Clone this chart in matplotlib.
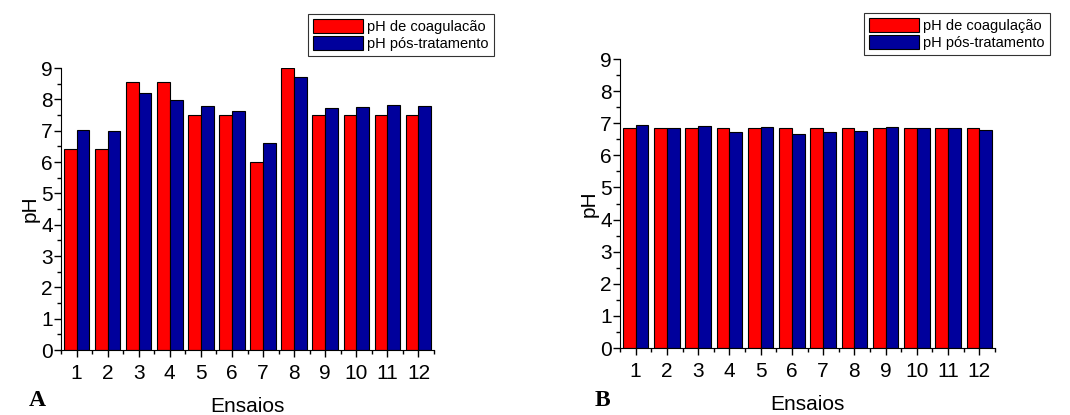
import matplotlib
matplotlib.use('Agg')
import matplotlib.pyplot as plt
import numpy as np
from matplotlib.ticker import MultipleLocator, FixedLocator

# ensaios 1..12
ensaios = np.arange(1, 13)

# painel A
ph_coag_a = [6.4, 6.4, 8.55, 8.55, 7.5, 7.5, 6.0, 9.0, 7.5, 7.5, 7.5, 7.5]
ph_pos_a = [7.03, 6.99, 8.21, 7.99, 7.80, 7.64, 6.62, 8.72, 7.73, 7.76, 7.82, 7.78]

# painel B
ph_coag_b = [6.84, 6.84, 6.84, 6.84, 6.84, 6.84, 6.84, 6.84, 6.84, 6.84, 6.84, 6.84]
ph_pos_b = [6.94, 6.84, 6.91, 6.72, 6.88, 6.65, 6.73, 6.77, 6.88, 6.86, 6.86, 6.80]

RED = '#FF0000'
BLUE = '#00009C'
plt.rcParams['font.family'] = ['Liberation Sans', 'DejaVu Sans']

fig = plt.figure(figsize=(10.7, 4.15), dpi=100)


def painel(rect, coag, pos, letra, letra_xy, leg_rect):
    ax = fig.add_axes(rect)
    w = 0.41
    ax.bar(ensaios - w / 2, coag, width=w, color=RED, edgecolor='black', linewidth=0.8,
           label='pH de coagulacão' if letra == 'A' else 'pH de coagulação')
    ax.bar(ensaios + w / 2, pos, width=w, color=BLUE, edgecolor='black', linewidth=0.8,
           label='pH pós-tratamento')
    ax.set_xlim(0.5, 12.5)
    ax.set_ylim(0, 9)
    ax.spines['top'].set_visible(False)
    ax.spines['right'].set_visible(False)
    ax.set_xticks(ensaios)
    ax.xaxis.set_minor_locator(FixedLocator(np.arange(0.5, 13, 1)))
    ax.yaxis.set_major_locator(MultipleLocator(1))
    ax.yaxis.set_minor_locator(MultipleLocator(0.5))
    ax.tick_params(axis='both', which='major', direction='out', length=5, width=1, labelsize=15)
    ax.tick_params(axis='both', which='minor', direction='out', length=3, width=1)
    ax.tick_params(axis='x', pad=5)
    ax.tick_params(axis='y', pad=1)
    ax.set_xlabel('Ensaios', fontsize=15, labelpad=10)
    ax.set_ylabel('pH', fontsize=15, labelpad=1)
    fig.text(letra_xy[0], letra_xy[1], letra, fontsize=17, fontweight='bold',
             family='Liberation Serif', ha='center', va='center')
    h, l = ax.get_legend_handles_labels()
    leg = fig.legend(h, l, loc='upper left', bbox_to_anchor=leg_rect, fontsize=10.5,
                     frameon=True, fancybox=False, handlelength=3.4, handleheight=1.1,
                     borderpad=0.35, labelspacing=0.15, handletextpad=0.3, borderaxespad=0)
    leg.get_frame().set_edgecolor('black')
    leg.get_frame().set_linewidth(0.8)
    return ax


painel([61 / 1070, 1 - 350 / 415, 373 / 1070, 282 / 415], ph_coag_a, ph_pos_a,
       'A', (37 / 1070, 1 - 400 / 415), (308 / 1070, 1 - 14 / 415))
painel([620 / 1070, 1 - 348 / 415, 375 / 1070, 289 / 415], ph_coag_b, ph_pos_b,
       'B', (602 / 1070, 1 - 400 / 415), (864 / 1070, 1 - 13 / 415))

fig.savefig('out.png', dpi=100)
